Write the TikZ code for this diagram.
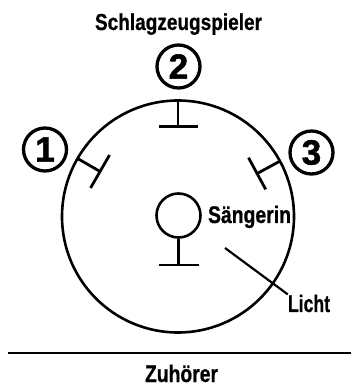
\documentclass[tikz,border=0pt]{standalone}
\usepackage{fontspec}
\setmainfont{Liberation Sans}
\newfontfamily\heavyfont{Liberation Sans Bold}[FakeBold=0.8]
\newfontfamily\numfont{Liberation Sans Bold}[FakeBold=1.6]
\begin{document}
\begin{tikzpicture}[x=1pt,y=1pt,
  lbl/.style={inner sep=0pt, anchor=base, font=\fontsize{24}{26}\heavyfont},
  num/.style={draw, circle, line width=3.3pt, minimum size=43pt, inner sep=0pt, font=\fontsize{35}{35}\numfont},
  stroke/.style={line width=2.8pt},
  ring/.style={draw, circle, line width=2.6pt, inner sep=0pt},
]
\useasboundingbox (0,0) rectangle (351,387);
% title
\node[lbl, font=\fontsize{23}{26}\heavyfont] (title) at (178.5,357) {\resizebox{167pt}{\height}{Schlagzeugspieler}};
% stage
\coordinate (c) at (178,170.5);
\node[ring, minimum size=232pt] (stage) at (c) {};
% numbered positions
\node[num] (n1) at (45,237.5) {1};
\node[num] (n2) at (178.5,320.5) {2};
\node[num] (n3) at (311.5,234.5) {3};
% drum markers
\draw[stroke] ([shift={(150:116)}]c) -- ([shift={(150:90)}]c) coordinate (m1);
\draw[stroke] ([shift={(60:19)}]m1) -- ([shift={(240:19)}]m1);
\draw[stroke] ([shift={(90:116)}]c) -- ([shift={(90:90)}]c) coordinate (m2);
\draw[stroke] ([shift={(0:19.5)}]m2) -- ([shift={(180:19.5)}]m2);
\draw[stroke] ([shift={(28.5:116)}]c) -- ([shift={(28.5:90)}]c) coordinate (m3);
\draw[stroke] ([shift={(118.5:18)}]m3) -- ([shift={(298.5:18)}]m3);
% singer
\node[ring, minimum size=44pt] (head) at (178.5,171.5) {};
\coordinate (foot) at (178.5,122);
\draw[stroke] (head.south) -- (foot);
\draw[stroke] ([xshift=-20pt]foot) -- ([xshift=20pt]foot);
\node[lbl] (saeng) at (249.5,164) {\resizebox{83pt}{\height}{Sängerin}};
% light
\node[lbl] (licht) at (309,75) {\resizebox{42pt}{\height}{Licht}};
\coordinate (lstart) at (225,139);
\draw[line width=2.2pt] (lstart) -- (licht.north west);
% audience line
\coordinate (ll) at (8,34);
\coordinate (lr) at (351,34);
\draw[line width=2.2pt] (ll) -- (lr);
\node[lbl] (zuh) at (181.5,5) {\resizebox{73pt}{\height}{Zuhörer}};
\end{tikzpicture}
\end{document}
